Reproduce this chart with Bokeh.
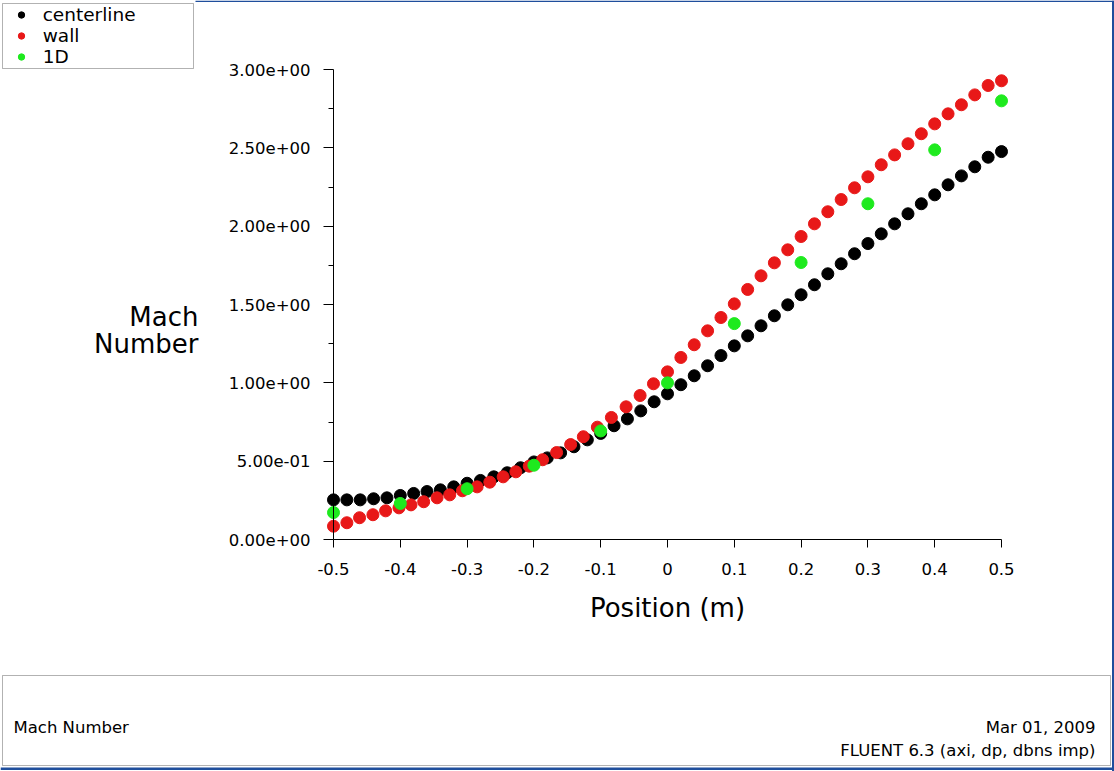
from bokeh.plotting import figure
from bokeh.models import Range1d, FixedTicker, Legend, LegendItem, Label, LinearAxis, BoxAnnotation
from bokeh.embed import file_html
from bokeh.resources import INLINE

# ---------------- data ----------------
x_centerline = [-0.50, -0.48, -0.46, -0.44, -0.42, -0.40, -0.38, -0.36, -0.34, -0.32,
                -0.30, -0.28, -0.26, -0.24, -0.22, -0.20, -0.18, -0.16, -0.14, -0.12,
                -0.10, -0.08, -0.06, -0.04, -0.02, 0.00, 0.02, 0.04, 0.06, 0.08,
                0.10, 0.12, 0.14, 0.16, 0.18, 0.20, 0.22, 0.24, 0.26, 0.28,
                0.30, 0.32, 0.34, 0.36, 0.38, 0.40, 0.42, 0.44, 0.46, 0.48, 0.50]
mach_centerline = [0.253, 0.253, 0.253, 0.260, 0.266, 0.281, 0.294, 0.306, 0.317, 0.336,
                   0.359, 0.377, 0.400, 0.426, 0.458, 0.495, 0.521, 0.553, 0.592, 0.636,
                   0.677, 0.726, 0.770, 0.821, 0.879, 0.930, 0.988, 1.045, 1.109, 1.174,
                   1.236, 1.300, 1.364, 1.428, 1.498, 1.562, 1.626, 1.696, 1.760, 1.824,
                   1.889, 1.951, 2.015, 2.079, 2.143, 2.200, 2.264, 2.321, 2.379, 2.440, 2.476]

x_wall = [-0.500, -0.480, -0.461, -0.441, -0.422, -0.402, -0.384, -0.365, -0.345, -0.326,
          -0.307, -0.285, -0.266, -0.246, -0.227, -0.207, -0.187, -0.166, -0.145, -0.126,
          -0.105, -0.084, -0.062, -0.041, -0.021, 0.000, 0.02, 0.04, 0.06, 0.08,
          0.10, 0.12, 0.14, 0.16, 0.18, 0.20, 0.22, 0.24, 0.26, 0.28,
          0.30, 0.32, 0.34, 0.36, 0.38, 0.40, 0.42, 0.44, 0.46, 0.48, 0.50]
mach_wall = [0.085, 0.107, 0.139, 0.158, 0.183, 0.202, 0.221, 0.241, 0.266, 0.285,
             0.311, 0.336, 0.366, 0.400, 0.432, 0.468, 0.509, 0.555, 0.606, 0.656,
             0.717, 0.779, 0.847, 0.919, 0.994, 1.070, 1.162, 1.243, 1.332, 1.417,
             1.504, 1.596, 1.683, 1.766, 1.849, 1.934, 2.015, 2.092, 2.170, 2.245,
             2.315, 2.392, 2.455, 2.526, 2.590, 2.653, 2.717, 2.775, 2.838, 2.898, 2.928]

x_1d = [-0.5, -0.4, -0.3, -0.2, -0.1, 0.0, 0.1, 0.2, 0.3, 0.4, 0.5]
mach_1d = [0.172, 0.230, 0.324, 0.474, 0.693, 1.000, 1.378, 1.768, 2.143, 2.487, 2.800]

series_names = ["centerline", "wall", "1D"]
x_tick_labels = ["-0.5", "-0.4", "-0.3", "-0.2", "-0.1", "0", "0.1", "0.2", "0.3", "0.4", "0.5"]
y_tick_labels = ["0.00e+00", "5.00e-01", "1.00e+00", "1.50e+00", "2.00e+00", "2.50e+00", "3.00e+00"]
x_title = "Position (m)"
y_title = ["Mach", "Number"]
footer_left = "Mach Number"
footer_right = ["Mar 01, 2009", "FLUENT 6.3 (axi, dp, dbns imp)"]

# ---------------- layout constants (canvas pixels) ----------------
W, H = 1114, 771
AX_LEFT, AX_RIGHT = 333, 1001     # canvas x of first / last x tick
AX_TOP, AX_BOTTOM = 69, 539       # canvas y of last / first y tick
FONT = "DejaVu Sans"

x_ticks = [float(s) for s in x_tick_labels]
y_ticks = [float(s) for s in y_tick_labels]
y_minor = [(a + b) / 2 for a, b in zip(y_ticks[:-1], y_ticks[1:])]

PX_X = (AX_RIGHT - AX_LEFT) / (x_ticks[-1] - x_ticks[0])
PX_Y = (AX_BOTTOM - AX_TOP) / (y_ticks[-1] - y_ticks[0])

def cx(px):
    return x_ticks[0] + (px - AX_LEFT) / PX_X

def cy(py):
    return y_ticks[0] + (AX_BOTTOM - py) / PX_Y

p = figure(width=W, height=H, output_backend="svg", toolbar_location=None,
           x_range=Range1d(cx(0), cx(W)), y_range=Range1d(cy(H), cy(0)),
           x_axis_type=None, y_axis_type=None,
           min_border_left=0, min_border_right=0, min_border_top=0, min_border_bottom=0)
p.outline_line_color = None
p.background_fill_color = "white"
p.border_fill_color = "white"

xaxis = LinearAxis(ticker=FixedTicker(ticks=x_ticks, minor_ticks=[]),
                   bounds=(x_ticks[0], x_ticks[-1]),
                   major_label_overrides={t: s for t, s in zip(x_ticks, x_tick_labels)},
                   axis_label=x_title, fixed_location=y_ticks[0])
yaxis = LinearAxis(ticker=FixedTicker(ticks=y_ticks, minor_ticks=y_minor),
                   bounds=(y_ticks[0], y_ticks[-1]),
                   major_label_overrides={t: s for t, s in zip(y_ticks, y_tick_labels)},
                   fixed_location=x_ticks[0])
for ax in (xaxis, yaxis):
    ax.axis_line_color = "black"
    ax.axis_line_width = 1
    ax.major_tick_line_color = "black"
    ax.minor_tick_line_color = "black"
    ax.major_tick_in = 0
    ax.minor_tick_in = 0
    ax.major_label_text_font = FONT
    ax.major_label_text_font_size = "16.5px"
    ax.major_label_text_color = "black"
xaxis.major_tick_out = 8
xaxis.major_label_standoff = 15
xaxis.axis_label_text_font = FONT
xaxis.axis_label_text_font_size = "26px"
xaxis.axis_label_text_font_style = "normal"
xaxis.axis_label_text_color = "black"
xaxis.axis_label_standoff = 15
yaxis.major_tick_out = 10
yaxis.minor_tick_out = 5
yaxis.major_label_standoff = 13
p.add_layout(xaxis, "below")
p.add_layout(yaxis, "left")

colors = ["black", "#e81818", "#1eea1e"]
r_c = p.scatter(x_centerline, mach_centerline, size=12, color=colors[0])
r_w = p.scatter(x_wall, mach_wall, size=12, color=colors[1])
r_1 = p.scatter(x_1d, mach_1d, size=12, color=colors[2])

# legend frame
p.add_layout(BoxAnnotation(left=cx(2), right=cx(193), top=cy(3), bottom=cy(68),
                           fill_alpha=0, line_color="black", line_width=1))
LEG_TOP, LEG_H = -1.5, 68.5
legend = Legend(items=[LegendItem(label=series_names[0], renderers=[r_c]),
                       LegendItem(label=series_names[1], renderers=[r_w]),
                       LegendItem(label=series_names[2], renderers=[r_1])],
                location=(12.7, H - LEG_TOP - LEG_H),
                border_line_color=None, background_fill_alpha=0,
                label_text_font=FONT, label_text_font_size="18.5px",
                label_text_color="black",
                padding=2, spacing=0, margin=0,
                glyph_width=16, glyph_height=21, label_height=21,
                label_standoff=14)
p.add_layout(legend)

for txt, base in zip(y_title, [316, 343]):
    p.add_layout(Label(x=cx(198), y=cy(base), text=txt, text_align="right",
                       text_baseline="alphabetic", text_font=FONT,
                       text_font_size="26px", text_color="black"))

# footer box
p.add_layout(BoxAnnotation(left=cx(2), right=cx(1110), top=cy(675), bottom=cy(765),
                           fill_alpha=0, line_color="black", line_width=1))
p.add_layout(Label(x=cx(13), y=cy(727), text=footer_left, text_align="left",
                   text_baseline="alphabetic", text_font=FONT, text_font_size="16.5px",
                   text_color="black"))
for txt, base in zip(footer_right, [727, 750]):
    p.add_layout(Label(x=cx(1095), y=cy(base), text=txt, text_align="right",
                       text_baseline="alphabetic", text_font=FONT, text_font_size="16.5px",
                       text_color="black"))

# window frame lines
frame_blue = "#1f4e9c"
p.add_layout(BoxAnnotation(left=cx(195), right=cx(W), top=cy(0), bottom=cy(1.5),
                           fill_color=frame_blue, fill_alpha=1, line_color=None))
p.add_layout(BoxAnnotation(left=cx(1111.5), right=cx(1113.5), top=cy(0), bottom=cy(H),
                           fill_color=frame_blue, fill_alpha=1, line_color=None))
p.add_layout(BoxAnnotation(left=cx(0), right=cx(W), top=cy(767), bottom=cy(769.5),
                           fill_color=frame_blue, fill_alpha=1, line_color=None))

open("out.html", "w").write(file_html(p, INLINE))
